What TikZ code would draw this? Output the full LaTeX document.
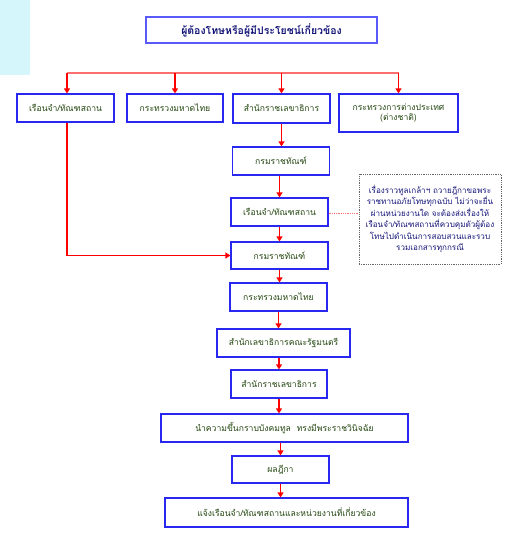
\documentclass[tikz,border=0pt]{standalone}
\usepackage{fontspec}
\newfontfamily\thaifont[Script=Thai]{Loma}
\usetikzlibrary{arrows.meta, positioning}
\definecolor{boxblue}{RGB}{40,40,240}
\definecolor{topblue}{RGB}{90,90,250}
\definecolor{boxtext}{RGB}{35,70,15}
\definecolor{navytext}{RGB}{20,20,120}
\definecolor{sidecyan}{RGB}{213,247,252}
\definecolor{fanred}{RGB}{255,110,110}
\definecolor{linkred}{RGB}{255,0,0}

\begin{document}
\begin{tikzpicture}[x=1pt, y=-1pt, font=\thaifont\fontsize{8.6}{10}\selectfont,
    >={Triangle[length=5pt, width=6pt]},
    box/.style={draw=boxblue, line width=1.2pt, fill=white, text=boxtext,
        minimum width=97pt, minimum height=28pt, inner sep=2pt, align=center},
    arr/.style={->, draw=linkred, line width=1.3pt},
    notebox/.style={draw=black!60, densely dotted, line width=0.8pt, text=navytext,
        minimum width=142pt, minimum height=90pt, align=center,
        font=\thaifont\fontsize{8.1}{11.5}\selectfont}]
    \useasboundingbox (0,0) rectangle (523,543);
    \fill[sidecyan] (0,0) rectangle (30,75);
    % top
    \node[box, draw=topblue, text=navytext, minimum width=231pt, minimum height=26pt,
        font=\thaifont\fontsize{10.5}{12}\selectfont] (who) at (261.5,30)
        {\bfseries ผู้ต้องโทษหรือผู้มีประโยชน์เกี่ยวข้อง};
    % first row
    \node[box] (jail) at (65.5,108) {เรือนจำ/ทัณฑสถาน};
    \node[box, minimum width=96pt] (moi) at (175,108) {กระทรวงมหาดไทย};
    \node[box, minimum height=29pt] (ohm) at (281.5,108.5) {สำนักราชเลขาธิการ};
    \node[box, minimum width=119pt, minimum height=38pt] (mfa) at (398.5,113)
        {กระทรวงการต่างประเทศ\\(ต่างชาติ)};
    % main column
    \node[box] (dc) at (281,161) {กรมราชทัณฑ์};
    \node[box] (jail2) at (279.5,212) {เรือนจำ/ทัณฑสถาน};
    \node[box, minimum height=27pt] (dc2) at (279.5,255.5) {กรมราชทัณฑ์};
    \node[box] (moi2) at (278.5,297) {กระทรวงมหาดไทย};
    \node[box, minimum width=133pt] (cabsec) at (283.5,343) {สำนักเลขาธิการคณะรัฐมนตรี};
    \node[box, minimum width=96pt] (ohm2) at (279,384) {สำนักราชเลขาธิการ};
    \node[box, minimum width=247pt] (king) at (284.5,428)
        {นำความขึ้นกราบบังคมทูล \ ทรงมีพระราชวินิจฉัย};
    \node[box, minimum height=27pt] (result) at (280.5,469.5) {ผลฎีกา};
    \node[box, minimum width=243pt, minimum height=29pt] (notify) at (286.5,512.5)
        {แจ้งเรือนจำ/ทัณฑสถานและหน่วยงานที่เกี่ยวข้อง};
    % note
    \node[notebox] (note) at (430,219)
        {เรื่องราวทูลเกล้าฯ ถวายฎีกาขอพระ\\ราชทานอภัยโทษทุกฉบับ ไม่ว่าจะยื่น\\ผ่านหน่วยงานใด จะต้องส่งเรื่องให้\\เรือนจำ/ทัณฑสถานที่ควบคุมตัวผู้ต้อง\\โทษไปดำเนินการสอบสวนและรวบ\\รวมเอกสารทุกกรณี};
    % fan out
    \coordinate (split) at (262,73);
    \draw[fanred, line width=1.5pt] ([xshift=1.5pt]jail.north |- split) -- (mfa.north |- split);
    \draw[arr] ([xshift=1.5pt]jail.north |- split) -- ([xshift=1.5pt]jail.north);
    \draw[arr] (moi.north |- split) -- (moi.north);
    \draw[arr] (ohm.north |- split) -- (ohm.north);
    \draw[arr] (mfa.north |- split) -- (mfa.north);
    % chain
    \draw[arr] (ohm.south) -- (ohm.south |- dc.north);
    \draw[arr] (jail2.north |- dc.south) -- (jail2.north);
    \draw[arr] (jail2.south) -- (jail2.south |- dc2.north);
    \draw[arr] ([xshift=1.5pt]jail.south) |- (dc2.west);
    \draw[arr] (dc2.south) -- (dc2.south |- moi2.north);
    \draw[arr] (moi2.south) -- (moi2.south |- cabsec.north);
    \draw[arr] (ohm2.north |- cabsec.south) -- (ohm2.north);
    \draw[arr] (ohm2.south) -- (ohm2.south |- king.north);
    \draw[arr] (result.north |- king.south) -- (result.north);
    \draw[arr] (result.south) -- (result.south |- notify.north);
    \draw[fanred, densely dotted, line width=0.8pt] ([yshift=-1pt]jail2.east) -- ([yshift=-1pt]jail2.east -| note.west);
\end{tikzpicture}
\end{document}
